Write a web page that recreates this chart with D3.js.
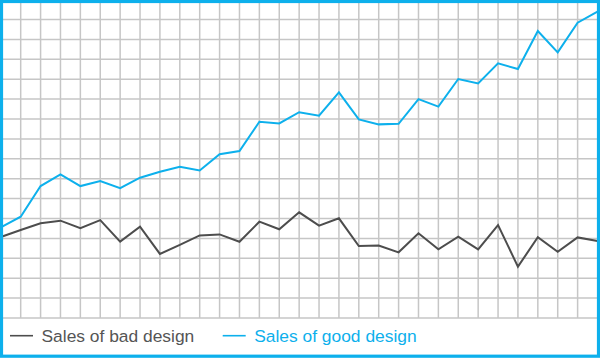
<!DOCTYPE html>
<html><head><meta charset="utf-8">
<script src="https://cdn.jsdelivr.net/npm/d3@7"></script>
<style>html,body{margin:0;padding:0;background:#fff;}svg{display:block;}</style>
</head><body>
<script>
const periods = d3.range(31);
const badDesign = [40.7,44.2,47.6,48.9,45.1,49.2,38.4,45.9,32.2,36.7,41.5,42.0,38.3,48.4,44.6,53.1,46.4,50.1,36.2,36.4,33.0,42.6,34.5,40.9,34.5,46.7,25.8,40.6,33.3,40.5,38.7];
const goodDesign = [45.5,50.9,66.3,72.2,66.3,68.8,65.2,70.5,73.5,76.0,74.1,82.3,83.9,98.6,97.8,103.4,101.7,113.4,99.8,97.3,97.6,110.0,106.2,120.1,117.9,128.0,125.1,144.2,133.5,148.4,153.9];
const xGridTicks = d3.range(1, 30);
const yGridTicks = d3.range(0, 160, 10);
const seriesNames = ["Sales of bad design", "Sales of good design"];
const seriesColors = ["#4d4d4d", "#0db0ec"];

const W = 600, H = 358;
const svg = d3.select("body").append("svg").attr("width", W).attr("height", H);
svg.append("rect").attr("width", W).attr("height", H).attr("fill", "#fff");

const x = d3.scaleLinear().domain([0, 30]).range([0.8, 597.5]);
const y = d3.scaleLinear().domain([0, 160]).range([318, -0.4]);

const grid = svg.append("g").attr("stroke", "#c6c6c6").attr("stroke-width", 1.5);
grid.selectAll("line.v").data(xGridTicks).join("line").attr("class", "v")
  .attr("x1", d => x(d)).attr("x2", d => x(d)).attr("y1", 0).attr("y2", y(0));
grid.selectAll("line.h").data(yGridTicks).join("line").attr("class", "h")
  .attr("x1", 0).attr("x2", W).attr("y1", d => y(d)).attr("y2", d => y(d));

const line = d3.line().x((d, i) => x(periods[i])).y(d => y(d));
[badDesign, goodDesign].forEach((s, i) => {
  svg.append("path").datum(s).attr("d", line).attr("fill", "none")
    .attr("stroke", seriesColors[i]).attr("stroke-width", 2).attr("stroke-linejoin", "miter");
});

const legendX = [10, 222.7];
const lg = svg.append("g");
seriesNames.forEach((n, i) => {
  lg.append("line").attr("x1", legendX[i]).attr("x2", legendX[i] + 23).attr("y1", 335.7).attr("y2", 335.7)
    .attr("stroke", seriesColors[i]).attr("stroke-width", 1.6);
  lg.append("text").attr("x", legendX[i] + 31.5).attr("y", 341.7).text(n)
    .attr("fill", i === 0 ? "#555555" : seriesColors[i])
    .attr("font-family", "'Liberation Sans', Arial, sans-serif").attr("font-size", "17.4px");
});

svg.append("rect").attr("x", 1.5).attr("y", 1.5).attr("width", W - 3).attr("height", H - 3.3)
  .attr("fill", "none").attr("stroke", "#0db0ec").attr("stroke-width", 3.2);
</script>
</body></html>
